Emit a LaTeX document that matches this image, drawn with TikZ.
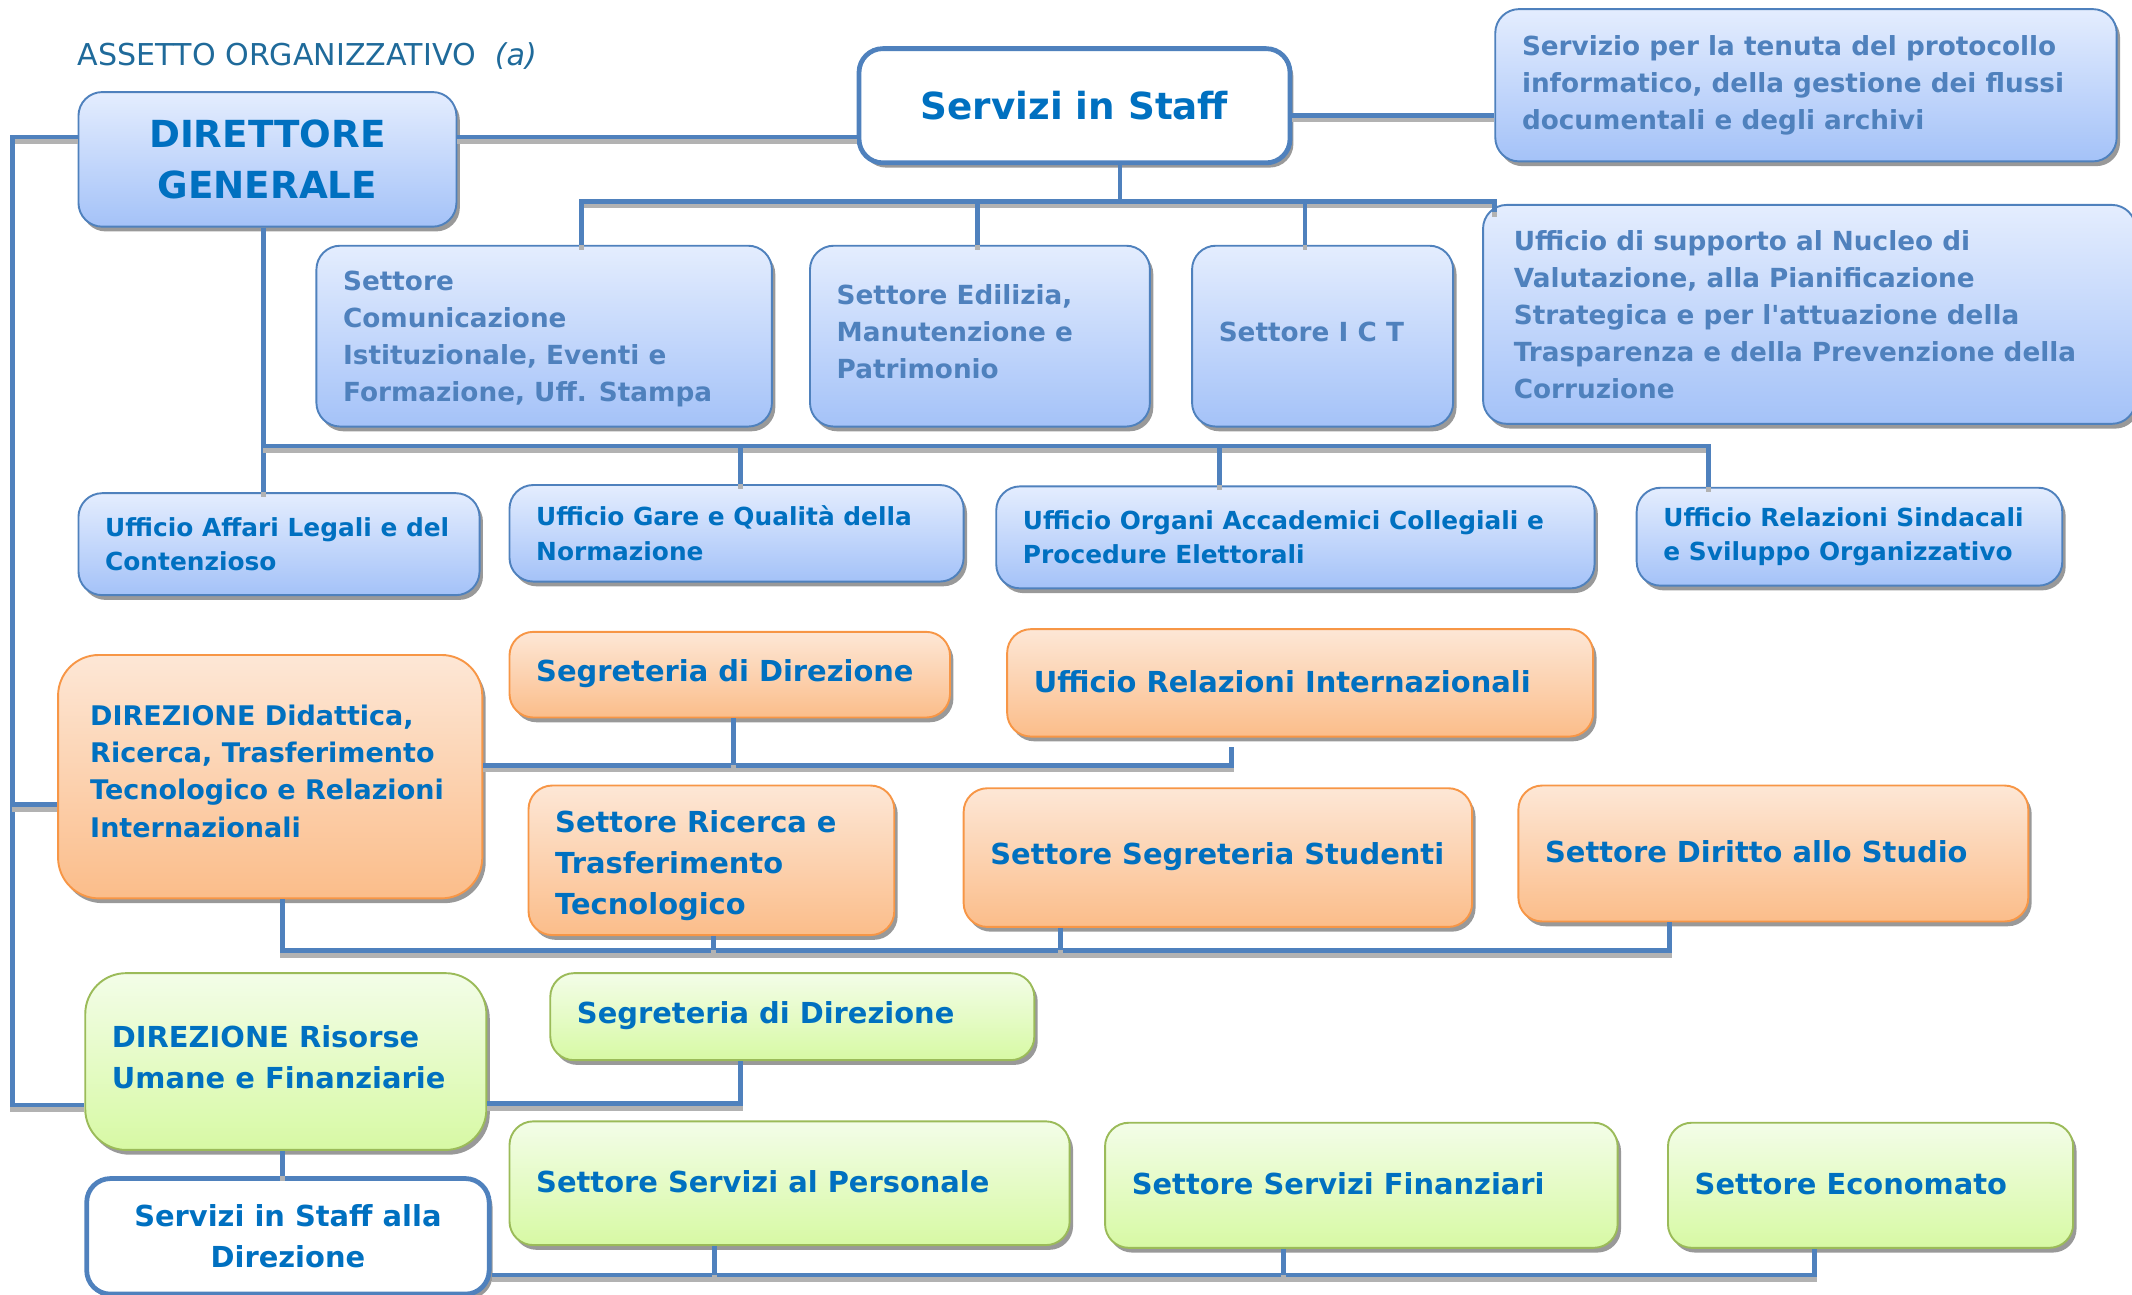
\documentclass[tikz,border=0pt]{standalone}
\usepackage{fontspec}
\setmainfont{DejaVu Sans}
\usepackage{tikz}
\usetikzlibrary{shadows}

\definecolor{lineblue}{HTML}{4F81BD}
\definecolor{darkblue}{HTML}{0070C0}
\definecolor{mutedblue}{HTML}{4F81BD}
\definecolor{titleblue}{HTML}{1F6A9A}
\definecolor{blueA}{HTML}{E4EDFE}
\definecolor{blueB}{HTML}{A4C2F8}
\definecolor{orangeline}{HTML}{F79646}
\definecolor{orangeA}{HTML}{FDE7D6}
\definecolor{orangeB}{HTML}{FBBD8A}
\definecolor{greenline}{HTML}{9BBB59}
\definecolor{greenA}{HTML}{F3FDE8}
\definecolor{greenB}{HTML}{D7F9A4}

\newcommand{\fntBig}{\fontsize{15.6}{21}\selectfont\bfseries}
\newcommand{\fntMid}{\fontsize{12.1}{17}\selectfont\bfseries}
\newcommand{\fntDid}{\fontsize{11.3}{15.6}\selectfont\bfseries}
\newcommand{\fntSmall}{\fontsize{11}{15.5}\selectfont\bfseries}
\newcommand{\fntRow}{\fontsize{10.4}{14.5}\selectfont\bfseries}

\begin{document}
\begin{tikzpicture}[box/.style={rounded corners=0.35cm, anchor=north west, inner sep=0pt, line width=0.8pt,
                      drop shadow={shadow xshift=0.05cm, shadow yshift=-0.07cm, fill=black!40, opacity=1}},
                    bluebox/.style={box, draw=lineblue, top color=blueA, bottom color=blueB},
                    orangebox/.style={box, draw=orangeline, top color=orangeA, bottom color=orangeB},
                    greenbox/.style={box, draw=greenline, top color=greenA, bottom color=greenB},
                    whitebox/.style={box, draw=lineblue, line width=2pt, fill=white, align=center, text=darkblue},
                    txtA/.style={anchor=west, xshift=0.4cm, inner sep=0pt, align=left, text=mutedblue, font=\fntSmall},
                    txtB/.style={anchor=west, xshift=0.4cm, inner sep=0pt, align=left, text=darkblue, font=\fntRow},
                    txtC/.style={anchor=west, xshift=0.4cm, yshift=0.02cm, inner sep=0pt, align=left, text=darkblue, font=\fntMid},
                    link/.style={draw=lineblue, line width=2pt,
                      preaction={draw=black!30, line width=2pt, transform canvas={yshift=-2pt}}}]

\useasboundingbox (0,0) rectangle (31.36,-19.04);

\node[anchor=base west, inner sep=0pt, text=titleblue, font=\fontsize{12.6}{15}\selectfont] (title) at (1.14,-0.96)
  {ASSETTO ORGANIZZATIVO~~\textit{(a)}};

\node[bluebox, minimum width=5.56cm, minimum height=1.98cm, align=center, text=darkblue, font=\fntBig] (dg) at (1.14,-1.34) {DIRETTORE\\GENERALE};
\node[whitebox, minimum width=6.34cm, minimum height=1.68cm, font=\fntBig] (staff) at (12.60,-0.68) {Servizi in Staff};
\node[bluebox, minimum width=9.14cm, minimum height=2.24cm,
  label={[txtA]west:{Servizio per la tenuta del protocollo\\informatico, della gestione dei flussi\\documentali e degli archivi}}] (protocollo) at (21.98,-0.12) {};

\node[bluebox, minimum width=6.70cm, minimum height=2.66cm,
  label={[txtA, yshift=-0.04cm]west:{Settore\\Comunicazione\\Istituzionale, Eventi e\\Formazione, Uff. Stampa}}] (comunic) at (4.64,-3.60) {};
\node[bluebox, minimum width=5.00cm, minimum height=2.66cm,
  label={[txtA, yshift=0.07cm]west:{Settore Edilizia,\\Manutenzione e\\Patrimonio}}] (edilizia) at (11.90,-3.60) {};
\node[bluebox, minimum width=3.84cm, minimum height=2.66cm,
  label={[txtA, yshift=0.06cm]west:{Settore I C T}}] (ict) at (17.52,-3.60) {};
\node[bluebox, minimum width=9.60cm, minimum height=3.22cm,
  label={[txtA, xshift=0.06cm]west:{Ufficio di supporto al Nucleo di\\Valutazione, alla Pianificazione\\Strategica e per l\textquotesingle attuazione della\\Trasparenza e della Prevenzione della\\Corruzione}}] (nucleo) at (21.80,-3.00) {};

\node[bluebox, minimum width=5.90cm, minimum height=1.50cm,
  label={[txtB]west:{Ufficio Affari Legali e del\\Contenzioso}}] (legali) at (1.14,-7.24) {};
\node[bluebox, minimum width=6.68cm, minimum height=1.42cm,
  label={[txtB]west:{Ufficio Gare e Qualità della\\Normazione}}] (gare) at (7.48,-7.12) {};
\node[bluebox, minimum width=8.80cm, minimum height=1.50cm,
  label={[txtB]west:{Ufficio Organi Accademici Collegiali e\\Procedure Elettorali}}] (organi) at (14.64,-7.14) {};
\node[bluebox, minimum width=6.26cm, minimum height=1.44cm,
  label={[txtB]west:{Ufficio Relazioni Sindacali\\e Sviluppo Organizzativo}}] (sindacali) at (24.06,-7.16) {};

\node[orangebox, minimum width=6.24cm, minimum height=3.58cm, rounded corners=0.6cm,
  label={[txtC, xshift=0.08cm, yshift=0.06cm, font=\fntDid]west:{DIREZIONE Didattica,\\Ricerca, Trasferimento\\Tecnologico e Relazioni\\Internazionali}}] (didattica) at (0.84,-9.62) {};
\node[orangebox, minimum width=6.48cm, minimum height=1.26cm,
  label={[txtC]west:{Segreteria di Direzione}}] (segrA) at (7.48,-9.28) {};
\node[orangebox, minimum width=8.62cm, minimum height=1.58cm,
  label={[txtC]west:{Ufficio Relazioni Internazionali}}] (relint) at (14.80,-9.24) {};
\node[orangebox, minimum width=5.38cm, minimum height=2.20cm,
  label={[txtC, yshift=-0.10cm]west:{Settore Ricerca e\\Trasferimento\\Tecnologico}}] (ricerca) at (7.76,-11.54) {};
\node[orangebox, minimum width=7.48cm, minimum height=2.04cm,
  label={[txtC]west:{Settore Segreteria Studenti}}] (studenti) at (14.16,-11.58) {};
\node[orangebox, minimum width=7.50cm, minimum height=2.00cm,
  label={[txtC]west:{Settore Diritto allo Studio}}] (diritto) at (22.32,-11.54) {};

\node[greenbox, minimum width=5.90cm, minimum height=2.60cm, rounded corners=0.6cm,
  label={[txtC, yshift=0.04cm]west:{DIREZIONE Risorse\\Umane e Finanziarie}}] (risorse) at (1.24,-14.30) {};
\node[greenbox, minimum width=7.12cm, minimum height=1.28cm,
  label={[txtC]west:{Segreteria di Direzione}}] (segrB) at (8.08,-14.30) {};
\node[greenbox, minimum width=8.24cm, minimum height=1.82cm,
  label={[txtC]west:{Settore Servizi al Personale}}] (personale) at (7.48,-16.48) {};
\node[greenbox, minimum width=7.54cm, minimum height=1.84cm,
  label={[txtC]west:{Settore Servizi Finanziari}}] (finanziari) at (16.24,-16.50) {};
\node[greenbox, minimum width=5.96cm, minimum height=1.84cm,
  label={[txtC]west:{Settore Economato}}] (economato) at (24.52,-16.50) {};
\node[whitebox, minimum width=5.92cm, minimum height=1.70cm, font=\fntMid] (staffdir) at (1.24,-17.30) {Servizi in Staff alla\\Direzione};

\coordinate (busA) at (0,-2.96);
\coordinate (busB) at (0,-6.56);
\coordinate (busC) at ([yshift=0.17cm]didattica.east);
\coordinate (busD) at (0,-13.98);
\coordinate (busE) at ([yshift=-0.57cm]staffdir.east);
\coordinate (spine) at (0.18,0);

\draw[link] ([yshift=0.33cm]dg.east) -- ([yshift=0.33cm]dg.east -| staff.west);
\draw[link] ([yshift=-0.14cm]staff.east) -- ([yshift=-0.14cm]staff.east -| protocollo.west);
\draw[link] ([xshift=0.67cm]staff.south) -- ([xshift=0.67cm]staff.south |- busA);
\draw[link] ([xshift=0.55cm]comunic.north) -- ([xshift=0.55cm]comunic.north |- busA)
  -- ([xshift=0.18cm]nucleo.north west |- busA) -- ([xshift=0.18cm,yshift=-0.12cm]nucleo.north west);
\draw[link] ([xshift=-0.04cm]edilizia.north) -- ([xshift=-0.04cm]edilizia.north |- busA);
\draw[link] ([xshift=-0.26cm]ict.north) -- ([xshift=-0.26cm]ict.north |- busA);

\draw[link] ([xshift=-0.06cm]dg.south) -- ([xshift=-0.06cm]dg.south |- legali.north);
\draw[link] ([xshift=-0.06cm]dg.south |- busB) -- ([xshift=-2.07cm]sindacali.north |- busB) -- ([xshift=-2.07cm]sindacali.north);
\draw[link] ([xshift=0.06cm]gare.north) -- ([xshift=0.06cm]gare.north |- busB);
\draw[link] ([xshift=-1.12cm]organi.north) -- ([xshift=-1.12cm]organi.north |- busB);

\draw[link] ([yshift=0.33cm]dg.west) -| ([yshift=-0.64cm]risorse.west -| spine) -- ([yshift=-0.64cm]risorse.west);
\draw[link] ([yshift=-0.41cm]didattica.west -| spine) -- ([yshift=-0.41cm]didattica.west);

\draw[link] (busC) -| ([xshift=-1.01cm,yshift=-0.14cm]relint.south);
\draw[link] ([xshift=0.06cm]segrA.south) -- ([xshift=0.06cm]segrA.south |- busC);
\draw[link] ([xshift=0.18cm]didattica.south) |- ([xshift=-1.53cm]diritto.south |- busD) -- ([xshift=-1.53cm]diritto.south);
\draw[link] ([xshift=0.03cm]ricerca.south) -- ([xshift=0.03cm]ricerca.south |- busD);
\draw[link] ([xshift=-2.32cm]studenti.south) -- ([xshift=-2.32cm]studenti.south |- busD);

\draw[link] ([yshift=-0.62cm]risorse.east) -| ([xshift=-0.76cm]segrB.south);
\draw[link] ([xshift=-0.05cm]risorse.south) -- ([xshift=-0.05cm]risorse.south |- staffdir.north);
\draw[link] (busE) -| ([xshift=-0.82cm]economato.south);
\draw[link] ([xshift=-1.10cm]personale.south) -- ([xshift=-1.10cm]personale.south |- busE);
\draw[link] ([xshift=-1.15cm]finanziari.south) -- ([xshift=-1.15cm]finanziari.south |- busE);
\end{tikzpicture}
\end{document}
